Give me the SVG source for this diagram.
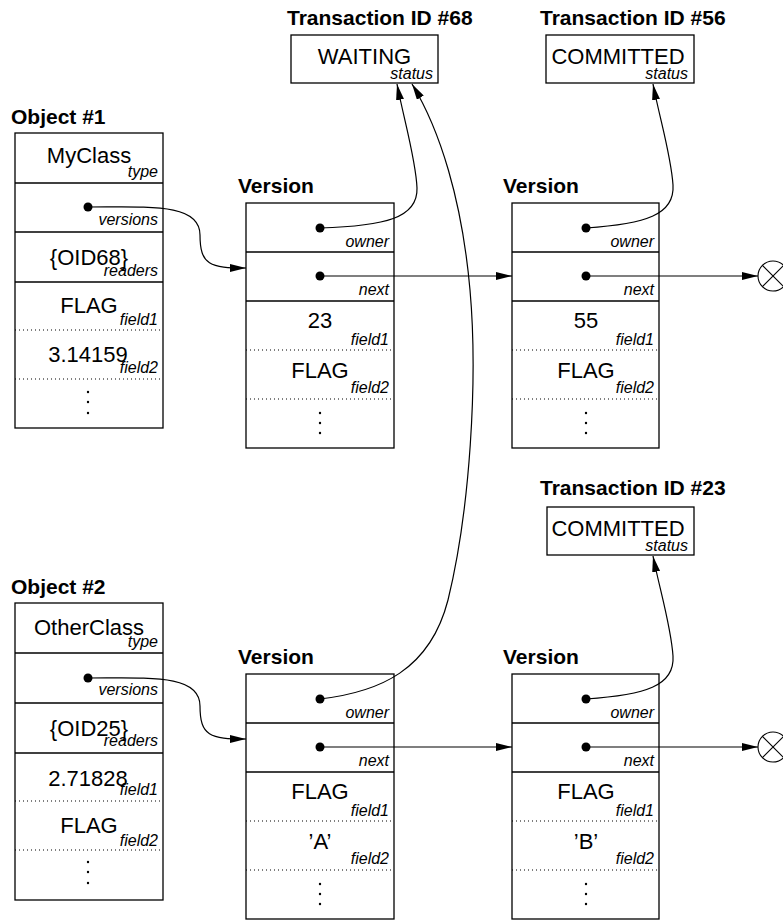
<svg xmlns="http://www.w3.org/2000/svg" width="783" height="920" viewBox="0 0 783 920">
<defs>
<style>
.box{fill:#fff;stroke:#000;stroke-width:1.3}
.sep{stroke:#000;stroke-width:1.3}
.dsep{stroke:#000;stroke-width:1.1;stroke-dasharray:1 3}
.title{font-family:"Liberation Sans",Arial,sans-serif;font-weight:bold;font-size:21px}
.val{font-family:"Liberation Sans",Arial,sans-serif;font-size:22px;text-anchor:middle}
.lbl{font-family:"Liberation Sans",Arial,sans-serif;font-style:italic;font-size:16px;text-anchor:end}
.ptr{fill:#000}
.ell{fill:#000}
.conn{fill:none;stroke:#000;stroke-width:1.2}
.nil{fill:#fff;stroke:#000;stroke-width:1.1}
</style>
<marker id="arr" markerUnits="userSpaceOnUse" viewBox="0 0 16 8" refX="16" refY="4" markerWidth="16" markerHeight="8" orient="auto"><path d="M0,0 L16,4 L0,8 z" fill="#000"/></marker>
</defs>
<rect width="783" height="920" fill="#fff"/>

<g id="nil1">
<circle class="nil" cx="773" cy="276" r="15"/>
<path class="conn" d="M762.4 265.4 L783.6 286.6 M762.4 286.6 L783.6 265.4"/>
</g>
<g id="nil2">
<circle class="nil" cx="773" cy="747" r="15"/>
<path class="conn" d="M762.4 736.4 L783.6 757.6 M762.4 757.6 L783.6 736.4"/>
</g>

<g id="tx68">
<text class="title" x="287" y="25">Transaction ID #68</text>
<rect class="box" x="291" y="35" width="147" height="48"/>
<text class="val" x="364.5" y="64">WAITING</text>
<text class="lbl" x="433" y="79">status</text>
</g>

<g id="tx56">
<text class="title" x="540" y="25">Transaction ID #56</text>
<rect class="box" x="546" y="35" width="148" height="48"/>
<text class="val" x="618" y="64">COMMITTED</text>
<text class="lbl" x="688" y="79">status</text>
</g>

<g id="tx23">
<text class="title" x="540" y="495">Transaction ID #23</text>
<rect class="box" x="547" y="507" width="147" height="48"/>
<text class="val" x="618" y="536">COMMITTED</text>
<text class="lbl" x="688" y="551">status</text>
</g>

<g id="object1">
<text class="title" x="11" y="124">Object #1</text>
<rect class="box" x="15" y="133" width="148" height="295"/>
<line class="sep" x1="15" y1="183" x2="163" y2="183"/>
<line class="sep" x1="15" y1="232" x2="163" y2="232"/>
<line class="sep" x1="15" y1="282" x2="163" y2="282"/>
<line class="dsep" x1="15" y1="330" x2="163" y2="330"/>
<line class="dsep" x1="15" y1="379" x2="163" y2="379"/>
<text class="val" x="89" y="163">MyClass</text>
<text class="lbl" x="158" y="177">type</text>
<circle class="ptr" cx="88" cy="207" r="4.5"/>
<text class="lbl" x="158" y="225">versions</text>
<text class="val" x="89" y="265">{OID68}</text>
<text class="lbl" x="158" y="276">readers</text>
<text class="val" x="89" y="313">FLAG</text>
<text class="lbl" x="158" y="325">field1</text>
<text class="val" x="88" y="362">3.14159</text>
<text class="lbl" x="158" y="373">field2</text>
<circle class="ell" cx="88" cy="392" r="1.2"/>
<circle class="ell" cx="88" cy="402" r="1.2"/>
<circle class="ell" cx="88" cy="413" r="1.2"/>
</g>

<g id="version1">
<text class="title" x="238" y="193">Version</text>
<rect class="box" x="246" y="203" width="148" height="245"/>
<line class="sep" x1="246" y1="252" x2="394" y2="252"/>
<line class="sep" x1="246" y1="301" x2="394" y2="301"/>
<line class="dsep" x1="246" y1="350" x2="394" y2="350"/>
<line class="dsep" x1="246" y1="399" x2="394" y2="399"/>
<circle class="ptr" cx="320" cy="228" r="4.5"/>
<text class="lbl" x="389" y="247">owner</text>
<circle class="ptr" cx="320" cy="276" r="4.5"/>
<text class="lbl" x="389" y="295">next</text>
<text class="val" x="320" y="328">23</text>
<text class="lbl" x="389" y="345">field1</text>
<text class="val" x="320" y="378">FLAG</text>
<text class="lbl" x="389" y="393">field2</text>
<circle class="ell" cx="320" cy="413" r="1.2"/>
<circle class="ell" cx="320" cy="423" r="1.2"/>
<circle class="ell" cx="320" cy="433" r="1.2"/>
</g>

<g id="version2">
<text class="title" x="503" y="193">Version</text>
<rect class="box" x="512" y="203" width="147" height="245"/>
<line class="sep" x1="512" y1="252" x2="659" y2="252"/>
<line class="sep" x1="512" y1="301" x2="659" y2="301"/>
<line class="dsep" x1="512" y1="350" x2="659" y2="350"/>
<line class="dsep" x1="512" y1="399" x2="659" y2="399"/>
<circle class="ptr" cx="586" cy="228" r="4.5"/>
<text class="lbl" x="654" y="247">owner</text>
<circle class="ptr" cx="586" cy="276" r="4.5"/>
<text class="lbl" x="654" y="295">next</text>
<text class="val" x="586" y="328">55</text>
<text class="lbl" x="654" y="345">field1</text>
<text class="val" x="586" y="378">FLAG</text>
<text class="lbl" x="654" y="393">field2</text>
<circle class="ell" cx="586" cy="413" r="1.2"/>
<circle class="ell" cx="586" cy="423" r="1.2"/>
<circle class="ell" cx="586" cy="433" r="1.2"/>
</g>

<g id="object2">
<text class="title" x="11" y="594">Object #2</text>
<rect class="box" x="15" y="603" width="148" height="297"/>
<line class="sep" x1="15" y1="653" x2="163" y2="653"/>
<line class="sep" x1="15" y1="703" x2="163" y2="703"/>
<line class="sep" x1="15" y1="753" x2="163" y2="753"/>
<line class="dsep" x1="15" y1="801" x2="163" y2="801"/>
<line class="dsep" x1="15" y1="850" x2="163" y2="850"/>
<text class="val" x="89" y="635">OtherClass</text>
<text class="lbl" x="158" y="647">type</text>
<circle class="ptr" cx="88" cy="678" r="4.5"/>
<text class="lbl" x="158" y="695">versions</text>
<text class="val" x="89" y="736">{OID25}</text>
<text class="lbl" x="158" y="746">readers</text>
<text class="val" x="88" y="786">2.71828</text>
<text class="lbl" x="158" y="795">field1</text>
<text class="val" x="89" y="833">FLAG</text>
<text class="lbl" x="158" y="846">field2</text>
<circle class="ell" cx="88" cy="862" r="1.2"/>
<circle class="ell" cx="88" cy="872" r="1.2"/>
<circle class="ell" cx="88" cy="883" r="1.2"/>
</g>

<g id="version3">
<text class="title" x="238" y="664">Version</text>
<rect class="box" x="246" y="674" width="148" height="245"/>
<line class="sep" x1="246" y1="723" x2="394" y2="723"/>
<line class="sep" x1="246" y1="772" x2="394" y2="772"/>
<line class="dsep" x1="246" y1="821" x2="394" y2="821"/>
<line class="dsep" x1="246" y1="870" x2="394" y2="870"/>
<circle class="ptr" cx="320" cy="699" r="4.5"/>
<text class="lbl" x="389" y="718">owner</text>
<circle class="ptr" cx="320" cy="747" r="4.5"/>
<text class="lbl" x="389" y="766">next</text>
<text class="val" x="320" y="799">FLAG</text>
<text class="lbl" x="389" y="816">field1</text>
<text class="val" x="320" y="849">’A’</text>
<text class="lbl" x="389" y="864">field2</text>
<circle class="ell" cx="320" cy="884" r="1.2"/>
<circle class="ell" cx="320" cy="894" r="1.2"/>
<circle class="ell" cx="320" cy="904" r="1.2"/>
</g>

<g id="version4">
<text class="title" x="503" y="664">Version</text>
<rect class="box" x="512" y="674" width="147" height="245"/>
<line class="sep" x1="512" y1="723" x2="659" y2="723"/>
<line class="sep" x1="512" y1="772" x2="659" y2="772"/>
<line class="dsep" x1="512" y1="821" x2="659" y2="821"/>
<line class="dsep" x1="512" y1="870" x2="659" y2="870"/>
<circle class="ptr" cx="586" cy="699" r="4.5"/>
<text class="lbl" x="654" y="718">owner</text>
<circle class="ptr" cx="586" cy="747" r="4.5"/>
<text class="lbl" x="654" y="766">next</text>
<text class="val" x="586" y="799">FLAG</text>
<text class="lbl" x="654" y="816">field1</text>
<text class="val" x="586" y="849">’B’</text>
<text class="lbl" x="654" y="864">field2</text>
<circle class="ell" cx="586" cy="884" r="1.2"/>
<circle class="ell" cx="586" cy="894" r="1.2"/>
<circle class="ell" cx="586" cy="904" r="1.2"/>
</g>

<g id="connectors">
<path class="conn" marker-end="url(#arr)" d="M88 207 C150 207 200 203 200 235 C200 265 210 268 246 268"/>
<path class="conn" marker-end="url(#arr)" d="M320 228 C385 226 418 218 417 188 C416 160 404 120 397 84"/>
<path class="conn" marker-end="url(#arr)" d="M320 276 L512 276"/>
<path class="conn" marker-end="url(#arr)" d="M586 228 C645 224 675 215 673 185 C671 155 660 120 653 84"/>
<path class="conn" marker-end="url(#arr)" d="M586 276 L758 276"/>
<path class="conn" marker-end="url(#arr)" d="M320 699 C380 692 430 670 448 600 C470 510 478 380 470 290 C462 200 440 130 412 84"/>
<path class="conn" marker-end="url(#arr)" d="M320 747 L512 747"/>
<path class="conn" marker-end="url(#arr)" d="M586 699 C645 695 675 686 673 656 C671 626 660 591 653 556"/>
<path class="conn" marker-end="url(#arr)" d="M586 747 L758 747"/>
<path class="conn" marker-end="url(#arr)" d="M88 678 C150 678 200 674 200 706 C200 736 210 739 246 739"/>
</g>
</svg>
